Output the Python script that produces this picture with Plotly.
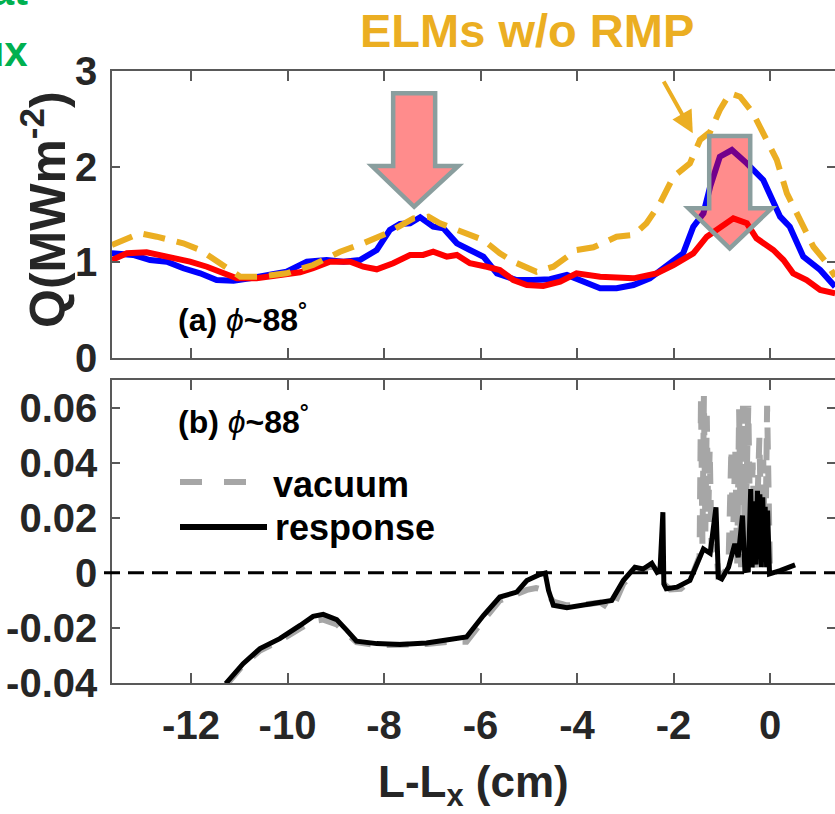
import plotly.graph_objects as go

W, H = 835, 814

# ---------------- data ----------------
# top panel: Q (MW m^-2) vs L-Lx (cm)
blue_x = [-13.64,-13.20,-12.85,-12.50,-12.16,-11.81,-11.47,-11.12,-10.78,-10.43,-10.02,-9.60,-9.19,-8.84,-8.50,-8.15,-7.88,-7.67,-7.46,-7.25,-6.98,-6.77,-6.49,-6.22,-5.94,-5.66,-5.25,-4.91,-4.56,-4.21,-3.87,-3.52,-3.18,-2.83,-2.49,-2.14,-1.80,-1.59,-1.38,-1.24,-1.04,-0.79,-0.48,-0.14,0.00,0.21,0.41,0.69,1.04,1.35]
blue_q = [1.094,1.077,1.024,1.007,0.938,0.885,0.815,0.808,0.833,0.868,0.902,1.007,1.024,1.007,1.024,1.129,1.338,1.401,1.408,1.471,1.372,1.356,1.199,1.129,1.059,0.885,0.815,0.815,0.823,0.868,0.798,0.729,0.729,0.763,0.833,0.972,1.094,1.372,1.512,1.791,2.104,2.174,2.035,1.861,1.721,1.477,1.372,1.059,0.920,0.745]

red_x = [-13.64,-13.33,-12.92,-12.57,-12.37,-12.02,-11.67,-11.33,-11.05,-10.64,-10.22,-9.74,-9.47,-9.12,-8.70,-8.43,-8.15,-7.81,-7.46,-7.19,-6.98,-6.70,-6.49,-6.22,-5.87,-5.60,-5.32,-5.04,-4.70,-4.35,-4.01,-3.52,-2.83,-2.35,-2.00,-1.59,-1.31,-1.04,-0.76,-0.48,-0.28,0.07,0.28,0.48,0.76,1.04,1.35]
red_q = [1.024,1.094,1.105,1.066,1.059,1.007,0.954,0.885,0.833,0.833,0.868,0.896,0.938,1.007,1.007,0.954,0.927,0.990,1.077,1.077,1.111,1.059,1.077,0.990,0.954,0.920,0.815,0.763,0.753,0.798,0.885,0.850,0.833,0.885,0.972,1.094,1.268,1.372,1.460,1.408,1.251,1.129,1.024,0.885,0.815,0.711,0.676]

orange_x = [-13.64,-13.06,-12.71,-12.16,-11.81,-11.40,-10.98,-10.57,-10.02,-9.47,-8.91,-8.43,-7.94,-7.39,-7.08,-6.84,-6.29,-5.94,-5.60,-5.32,-4.84,-4.49,-4.01,-3.66,-3.18,-2.83,-2.56,-2.28,-2.00,-1.66,-1.45,-1.24,-1.04,-0.83,-0.62,-0.35,-0.07,0.14,0.35,0.62,0.90,1.18,1.35]
orange_q = [1.181,1.303,1.268,1.199,1.129,0.990,0.850,0.850,0.885,0.972,1.111,1.199,1.303,1.460,1.477,1.408,1.303,1.233,1.094,1.007,0.902,0.954,1.129,1.157,1.268,1.286,1.408,1.617,1.895,2.035,2.279,2.365,2.592,2.767,2.731,2.558,2.279,2.070,1.721,1.442,1.163,0.990,0.850]

# bottom panel
vac_x = [-11.26,-10.92,-10.57,-10.16,-9.74,-9.47,-9.26,-8.98,-8.77,-8.57,-8.15,-7.67,-7.12,-6.63,-6.29,-5.94,-5.60,-5.25,-5.04,-4.85,-4.66,-4.49,-4.21,-3.87,-3.52,-3.28,-3.04,-2.83,-2.63,-2.45,-2.30,-2.20,-2.07,-1.85,-1.66,-1.52,-1.46,-1.43,-1.40,-1.37,-1.34,-1.31,-1.28,-1.25,-1.21,-1.12,-1.07,-0.95,-0.86,-0.80,-0.77,-0.72,-0.68,-0.64,-0.60,-0.56,-0.52,-0.45,-0.40,-0.36,-0.30,-0.22,-0.17,-0.14,-0.10,-0.06,-0.03,0.00]
vac_v = [-0.0405,-0.0335,-0.0282,-0.0247,-0.0202,-0.0175,-0.0170,-0.0187,-0.0220,-0.0252,-0.0263,-0.0263,-0.0258,-0.0250,-0.0250,-0.0172,-0.0100,-0.0077,-0.0062,-0.0055,-0.0065,-0.0105,-0.0118,-0.0115,-0.0108,-0.0135,-0.0040,0.0000,0.0012,0.0025,0.0005,-0.0040,-0.0060,-0.0058,-0.0030,0.0030,0.0060,0.0640,0.0100,0.0642,0.0150,0.0570,0.0200,0.0450,0.0080,0.0100,-0.0010,0.0000,0.0030,0.0455,0.0100,0.0450,0.0030,0.0594,0.0020,0.0606,0.0050,0.0606,0.0030,0.0400,0.0020,0.0490,0.0050,0.0410,0.0020,0.0606,0.0010,0.0000]

resp_x = [-11.28,-10.92,-10.57,-10.16,-9.74,-9.47,-9.26,-8.98,-8.77,-8.57,-8.15,-7.67,-7.12,-6.63,-6.29,-5.94,-5.60,-5.25,-5.04,-4.77,-4.66,-4.59,-4.49,-4.21,-3.87,-3.52,-3.28,-3.04,-2.80,-2.63,-2.45,-2.34,-2.28,-2.22,-2.20,-2.15,-1.93,-1.66,-1.52,-1.38,-1.24,-1.12,-1.07,-1.00,-0.86,-0.73,-0.66,-0.57,-0.52,-0.45,-0.40,-0.37,-0.33,-0.29,-0.26,-0.23,-0.21,-0.18,-0.15,-0.12,-0.10,-0.07,-0.05,-0.01,0.21,0.52]
resp_v = [-0.0402,-0.0330,-0.0275,-0.0239,-0.0191,-0.0158,-0.0151,-0.0170,-0.0209,-0.0248,-0.0257,-0.0260,-0.0255,-0.0243,-0.0233,-0.0155,-0.0088,-0.0070,-0.0028,-0.0006,-0.0001,-0.0064,-0.0118,-0.0127,-0.0118,-0.0106,-0.0100,-0.0028,0.0020,0.0014,0.0035,0.0002,0.0008,0.0220,-0.0040,-0.0058,-0.0052,-0.0028,0.0033,0.0087,0.0071,0.0238,-0.0016,-0.0022,0.0020,0.0105,0.0057,0.0208,0.0008,0.0010,0.0304,0.0020,0.0260,0.0030,0.0298,0.0050,0.0285,0.0020,0.0274,0.0040,0.0240,0.0020,0.0226,-0.0004,0.0008,0.0029]

x_ticks = [-12, -10, -8, -6, -4, -2, 0]
x_ticktext = ["-12", "-10", "-8", "-6", "-4", "-2", "0"]
q_ticks = [0, 1, 2, 3]
q_ticktext = ["0", "1", "2", "3"]
v_ticks = [-0.04, -0.02, 0, 0.02, 0.04, 0.06]
v_ticktext = ["-0.04", "-0.02", "0", "0.02", "0.04", "0.06"]

# ---------------- style ----------------
BLUE = "#0000FF"
RED = "#FF0000"
ORANGE = "#EBAE22"
GRAY = "#A6A6A6"
GREEN = "#00B050"
TXT = "#262626"
AX = "#595959"
FONT = "Liberation Sans"


def pxx(p):
    return p / W


def pxy(p):
    return 1 - p / H


fig = go.Figure()

fig.add_trace(go.Scatter(x=blue_x, y=blue_q, mode="lines", line=dict(color=BLUE, width=6),
                         xaxis="x", yaxis="y", showlegend=False))
fig.add_trace(go.Scatter(x=red_x, y=red_q, mode="lines", line=dict(color=RED, width=6),
                         xaxis="x", yaxis="y", showlegend=False))
fig.add_trace(go.Scatter(x=orange_x, y=orange_q, mode="lines",
                         line=dict(color=ORANGE, width=6, dash="22px,12px"),
                         xaxis="x", yaxis="y", showlegend=False))

fig.add_trace(go.Scatter(x=vac_x, y=vac_v, mode="lines",
                         line=dict(color=GRAY, width=6, dash="22px,16px"),
                         xaxis="x2", yaxis="y2", showlegend=False))
fig.add_trace(go.Scatter(x=resp_x, y=resp_v, mode="lines", line=dict(color="black", width=5),
                         xaxis="x2", yaxis="y2", showlegend=False))

x_left = (112 - 770) / 48.25
x_right = (835 - 770) / 48.25

tickfont = dict(family=FONT, size=40, color=TXT, weight="bold")
common = dict(showline=True, linecolor=AX, linewidth=1.5, mirror="ticks", ticks="inside",
              tickcolor=AX, tickwidth=1.5, showgrid=False, zeroline=False, tickfont=tickfont,
              automargin=False)

fig.update_layout(
    width=W, height=H,
    margin=dict(l=0, r=0, t=0, b=0),
    paper_bgcolor="white", plot_bgcolor="white",
    xaxis=dict(domain=[112 / W, 1.0], range=[x_left, x_right], anchor="y",
               tickvals=x_ticks, ticktext=x_ticktext, showticklabels=False, ticklen=10, **common),
    yaxis=dict(domain=[pxy(358), pxy(71)], range=[0, 3], anchor="x",
               tickvals=q_ticks, ticktext=q_ticktext, ticklen=8, ticklabelstandoff=5, **common),
    xaxis2=dict(domain=[112 / W, 1.0], range=[x_left, x_right], anchor="y2",
                tickvals=x_ticks, ticktext=x_ticktext, ticklen=10, ticklabelstandoff=6, **common),
    yaxis2=dict(domain=[pxy(683), pxy(380)], range=[-0.04, 0.07], anchor="x2",
                tickvals=v_ticks, ticktext=v_ticktext, ticklen=8, ticklabelstandoff=5, **common),
)

# block arrows (decoration), in data units of the top panel
def block_arrow(xl, xr, ytop, ybase, hl, hr, tipx, tipy):
    return (f"M {xl},{ytop} L {xr},{ytop} L {xr},{ybase} L {hr},{ybase} "
            f"L {tipx},{tipy} L {hl},{ybase} L {xl},{ybase} Z")

shapes = [
    dict(type="path", xref="x", yref="y", layer="above",
         path=block_arrow(-7.81, -6.94, 2.767, 2.007, -8.25, -6.46, -7.375, 1.581),
         fillcolor="rgba(255,0,0,0.45)", line=dict(color="#8A9E9E", width=4.5)),
    dict(type="path", xref="x", yref="y", layer="above",
         path=block_arrow(-1.26, -0.41, 2.320, 1.565, -1.69, 0.035, -0.835, 1.147),
         fillcolor="rgba(255,0,0,0.45)", line=dict(color="#8A9E9E", width=4.5)),
    # zero line in panel (b)
    dict(type="line", xref="paper", yref="y2", x0=pxx(104), x1=1.0, y0=0, y1=0,
         line=dict(color="black", width=3, dash="16px,8px")),
    # legend samples
    dict(type="line", xref="paper", yref="paper", x0=pxx(180), x1=pxx(247), y0=pxy(482), y1=pxy(482),
         line=dict(color=GRAY, width=6, dash="22px,22px")),
    dict(type="line", xref="paper", yref="paper", x0=pxx(180), x1=pxx(267), y0=pxy(527), y1=pxy(527),
         line=dict(color="black", width=6)),
]
fig.update_layout(shapes=shapes)

ann = [
    dict(text="<b>ELMs w/o RMP</b>", x=pxx(527), y=pxy(31), xref="paper", yref="paper",
         showarrow=False, xanchor="center", yanchor="middle",
         font=dict(family=FONT, size=47, color=ORANGE)),
    dict(text="<b>Heat</b>", x=pxx(30), y=pxy(-9), xref="paper", yref="paper",
         showarrow=False, xanchor="right", yanchor="middle",
         font=dict(family=FONT, size=42, color=GREEN)),
    dict(text="<b>flux</b>", x=pxx(30), y=pxy(52), xref="paper", yref="paper",
         showarrow=False, xanchor="right", yanchor="middle",
         font=dict(family=FONT, size=42, color=GREEN)),
    dict(text="<b>Q(MWm<sup>-2</sup>)</b>", x=pxx(44), y=pxy(210), xref="paper", yref="paper",
         showarrow=False, xanchor="center", yanchor="middle", textangle=-90,
         font=dict(family=FONT, size=50, color=TXT)),
    dict(text="<b>L-L<sub>x</sub> (cm)</b>", x=pxx(473), y=pxy(785), xref="paper", yref="paper",
         showarrow=False, xanchor="center", yanchor="middle",
         font=dict(family=FONT, size=44, color=TXT)),
    dict(text="<b>(a)</b> <i>ϕ</i><b>~88<sup>°</sup></b>", x=pxx(176), y=pxy(318), xref="paper", yref="paper",
         showarrow=False, xanchor="left", yanchor="middle",
         font=dict(family=FONT, size=32, color="black")),
    dict(text="<b>(b)</b> <i>ϕ</i><b>~88<sup>°</sup></b>", x=pxx(176), y=pxy(420), xref="paper", yref="paper",
         showarrow=False, xanchor="left", yanchor="middle",
         font=dict(family=FONT, size=32, color="black")),
    dict(text="<b>vacuum</b>", x=pxx(271), y=pxy(484), xref="paper", yref="paper",
         showarrow=False, xanchor="left", yanchor="middle",
         font=dict(family=FONT, size=36, color="black")),
    dict(text="<b>response</b>", x=pxx(273), y=pxy(527), xref="paper", yref="paper",
         showarrow=False, xanchor="left", yanchor="middle",
         font=dict(family=FONT, size=36, color="black")),
    # small orange arrow pointing to the ELM peak shoulder
    dict(text="", x=-1.60, y=2.35, xref="x", yref="y", ax=-2.22, ay=2.906, axref="x", ayref="y",
         showarrow=True, arrowhead=2, arrowsize=1.1, arrowwidth=4, arrowcolor=ORANGE),
]
fig.update_layout(annotations=ann)

fig.write_html("out.html")
